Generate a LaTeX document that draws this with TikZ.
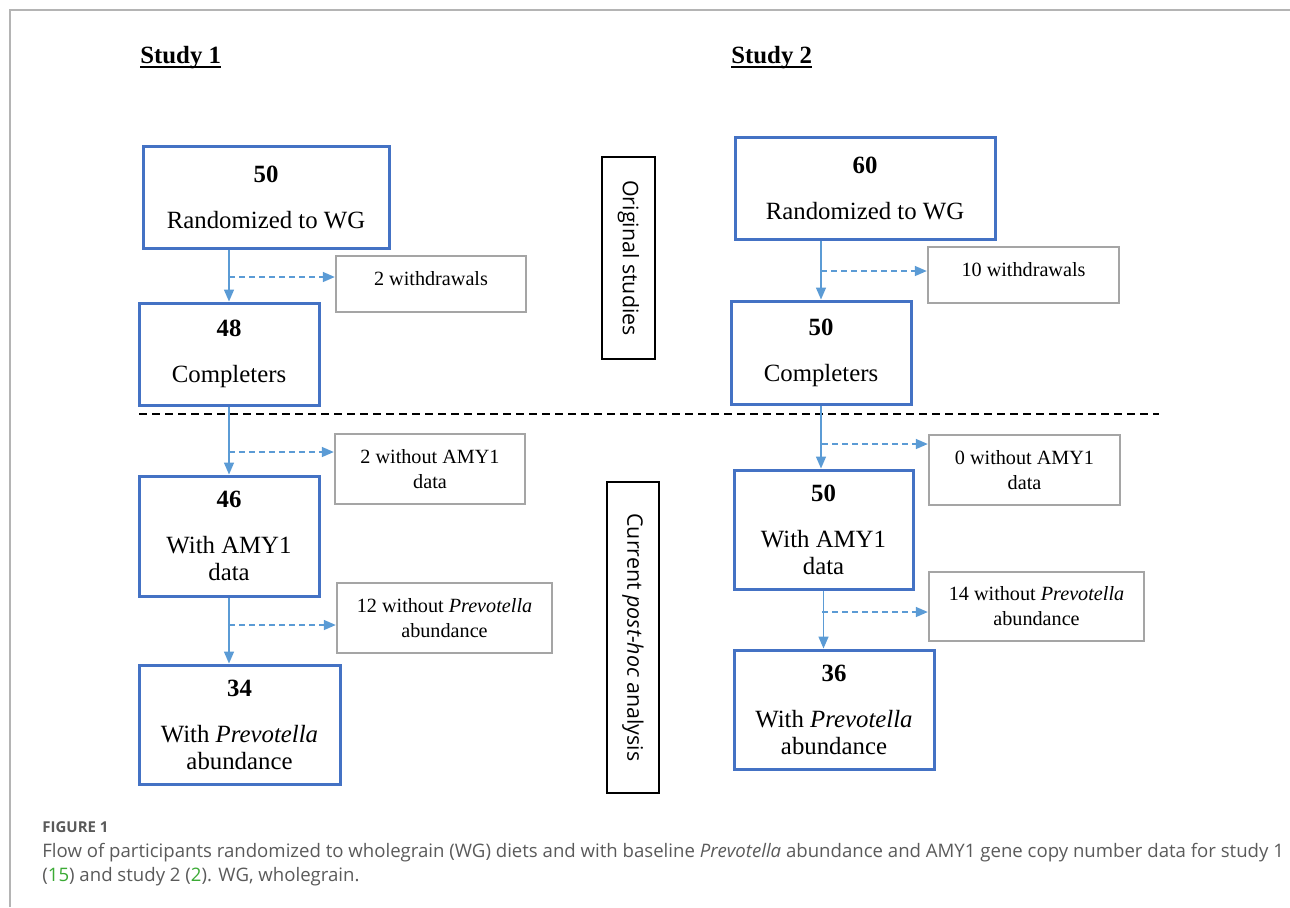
\documentclass[tikz,border=0pt]{standalone}
\usepackage{fontspec}
\setmainfont{Liberation Serif}
\newfontfamily\capfont{Open Sans}
\usetikzlibrary{arrows.meta}
\definecolor{boxblue}{HTML}{4472C4}
\definecolor{arrowblue}{HTML}{5B9BD5}
\definecolor{boxgray}{HTML}{A5A5A5}
\definecolor{framegray}{HTML}{B4B4B4}
\definecolor{capgray}{HTML}{5A5A5A}
\definecolor{citegreen}{HTML}{3BAA35}
\begin{document}
\begin{tikzpicture}[x=0.5pt, y=-0.5pt,
	mainbox/.style={draw=boxblue, line width=1.5pt, align=center, inner sep=0pt, font=\fontsize{12.4}{13.5}\selectfont},
	exclbox/.style={draw=boxgray, line width=1.2pt, align=center, inner sep=0pt, font=\fontsize{10.1}{12.5}\selectfont},
	phasebox/.style={draw, line width=0.75pt, inner sep=0pt, rotate=-90, font=\capfont\fontsize{10.7}{12}\selectfont},
	headtext/.style={anchor=base west, inner sep=0pt, font=\bfseries\fontsize{12.4}{14}\selectfont},
	captext/.style={anchor=base west, inner sep=0pt, text=capgray, font=\capfont\fontsize{9.3}{12}\selectfont},
	flowarrow/.style={draw=arrowblue, line width=0.75pt, -{Triangle[width=5pt,length=6pt]}},
	exclarrow/.style={flowarrow, dash pattern=on 3pt off 2pt}]
	\useasboundingbox (0,0) rectangle (1290,907);
	\draw[framegray, line width=0.75pt] (10,907) -- (10,10) -- (1290,10);
	\node[headtext] (st1) at (140,63) {Study 1};
	\node[headtext] (st2) at (731,63) {Study 2};
	\draw[line width=1pt] ([yshift=-2pt]st1.base west) -- ([yshift=-2pt]st1.base east);
	\draw[line width=1pt] ([yshift=-2pt]st2.base west) -- ([yshift=-2pt]st2.base east);
	\node[mainbox, minimum width=123pt, minimum height=51pt] (a1) at (266,197) {\textbf{50}\\[9.5pt]Randomized to WG};
	\node[exclbox, minimum width=95pt, minimum height=28pt, text depth=6pt] (w1) at (431,284) {2 withdrawals};
	\node[mainbox, minimum width=90pt, minimum height=51pt] (a2) at (229,354) {\textbf{48}\\[9.5pt]Completers};
	\node[exclbox, minimum width=95pt, minimum height=35pt] (w2) at (430,469) {2 without AMY1\\data};
	\node[mainbox, minimum width=90pt, minimum height=60pt] (a3) at (229,536) {\textbf{46}\\[9.5pt]With AMY1\\data};
	\node[exclbox, minimum width=107.5pt, minimum height=35pt] (w3) at (444.5,618) {12 without \textit{Prevotella}\\abundance};
	\node[mainbox, minimum width=100.5pt, minimum height=59.5pt] (a4) at (239.5,724.5) {\textbf{34}\\[9.5pt]With \textit{Prevotella}\\abundance};
	\node[mainbox, minimum width=130pt, minimum height=51pt] (b1) at (865,188) {\textbf{60}\\[9.5pt]Randomized to WG};
	\node[exclbox, minimum width=95.5pt, minimum height=28pt, text depth=6pt] (v1) at (1023.5,275) {10 withdrawals};
	\node[mainbox, minimum width=90pt, minimum height=51.5pt] (b2) at (821,352.5) {\textbf{50}\\[9.5pt]Completers};
	\node[exclbox, minimum width=95.5pt, minimum height=35pt] (v2) at (1024.5,470) {0 without AMY1\\data};
	\node[mainbox, minimum width=89.5pt, minimum height=59.5pt] (b3) at (823.5,529.5) {\textbf{50}\\[9.5pt]With AMY1\\data};
	\node[exclbox, minimum width=107.5pt, minimum height=34.5pt] (v3) at (1036.5,606.5) {14 without \textit{Prevotella}\\abundance};
	\node[mainbox, minimum width=100pt, minimum height=59.5pt] (b4) at (834,709.5) {\textbf{36}\\[9.5pt]With \textit{Prevotella}\\abundance};
	\node[phasebox, minimum width=101pt, minimum height=26.5pt] (orig) at (628.5,258) {Original studies};
	\node[phasebox, minimum width=155.5pt, minimum height=26pt] (post) at (633,637.5) {Current \textit{post-hoc} analysis};
	\draw[dash pattern=on 4pt off 2.5pt, line width=0.8pt] (139,414) -- (1159,414);
	\draw[flowarrow] (a1.south -| a2.north) -- (a2.north);
	\draw[flowarrow] (a2.south) -- (a2.south |- a3.north);
	\draw[flowarrow] (a3.south) -- (a3.south |- a4.north);
	\draw[flowarrow] (b1.south -| b2.north) -- (b2.north);
	\draw[flowarrow] (b2.south) -- (b2.south |- b3.north);
	\draw[flowarrow] (b3.south) -- (b3.south |- b4.north);
	\coordinate (j1) at (229,277);
	\coordinate (j2) at (229,452);
	\coordinate (j3) at (229,625);
	\coordinate (k1) at (821,271);
	\coordinate (k2) at (822,444);
	\coordinate (k3) at (822,612);
	\draw[exclarrow] (j1) -- (j1 -| w1.west);
	\draw[exclarrow] (j2) -- (j2 -| w2.west);
	\draw[exclarrow] (j3) -- (j3 -| w3.west);
	\draw[exclarrow] (k1) -- (k1 -| v1.west);
	\draw[exclarrow] (k2) -- (k2 -| v2.west);
	\draw[exclarrow] (k3) -- (k3 -| v3.west);
	\node[captext, font=\capfont\bfseries\fontsize{7.5}{9}\selectfont] (fig) at (42,832) {FIGURE 1};
	\node[captext] (cap1) at (42,857) {Flow of participants randomized to wholegrain (WG) diets and with baseline \textit{Prevotella} abundance and AMY1 gene copy number data for study 1};
	\node[captext] (cap2) at (42,881) {(\textcolor{citegreen}{15}) and study 2 (\textcolor{citegreen}{2}). WG, wholegrain.};
\end{tikzpicture}
\end{document}
